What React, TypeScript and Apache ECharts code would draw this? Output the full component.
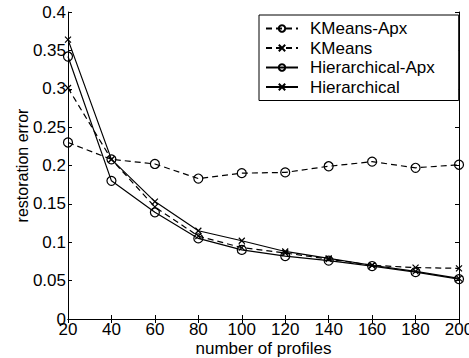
import React, { useEffect, useRef } from "react";
import * as echarts from "echarts";

const profiles = [20, 40, 60, 80, 100, 120, 140, 160, 180, 200];
const kmeansApx = [0.230, 0.208, 0.202, 0.183, 0.190, 0.191, 0.199, 0.205, 0.197, 0.201];
const kmeans = [0.301, 0.208, 0.146, 0.108, 0.093, 0.086, 0.078, 0.070, 0.067, 0.066];
const hierApx = [0.342, 0.180, 0.139, 0.105, 0.090, 0.082, 0.076, 0.069, 0.061, 0.052];
const hier = [0.364, 0.208, 0.153, 0.115, 0.102, 0.088, 0.079, 0.070, 0.062, 0.053];
const seriesNames = ["KMeans-Apx", "KMeans", "Hierarchical-Apx", "Hierarchical"];

const FONT = "Liberation Sans, Arial, Helvetica, sans-serif";
const X_SYMBOL = "path://M0,0L10,10M10,0L0,10";

export default function App() {
  const ref = useRef<HTMLDivElement>(null);
  useEffect(() => {
    if (!ref.current) return;
    const chart = echarts.init(ref.current, undefined, { renderer: "svg" });
    const mk = (name: string, vals: number[], dashed: boolean, sym: string, size: number) => ({
      name,
      type: "line",
      data: profiles.map((x, i) => [x, vals[i]]),
      symbol: sym,
      symbolSize: size,
      showSymbol: true,
      lineStyle: { color: "#000", width: 1.2, type: dashed ? [6, 4] : "solid" },
      itemStyle: { color: "none", borderColor: "#000", borderWidth: 1.2 },
      emphasis: { disabled: true },
    });
    const axisCommon = {
      axisLine: { show: true, lineStyle: { color: "#000", width: 1 } },
      axisTick: { show: true, inside: true, length: 4, lineStyle: { color: "#000" } },
      splitLine: { show: false },
    };
    chart.setOption({
      animation: false,
      backgroundColor: "#fff",
      grid: {
        left: 68,
        right: 10,
        top: 12,
        bottom: 39,
        containLabel: false,
        outerBoundsMode: "none",
      },
      legend: {
        data: seriesNames,
        orient: "vertical",
        left: 259,
        top: 15,
        itemWidth: 32,
        itemHeight: 8,
        itemGap: 2.5,
        padding: [5, 24, 5, 6],
        borderColor: "#000",
        borderWidth: 1,
        backgroundColor: "#fff",
        selectedMode: false,
        textStyle: { fontFamily: FONT, fontSize: 17, color: "#000", padding: [0, 0, 0, 7] },
      },
      xAxis: [
        {
          type: "value",
          min: 20,
          max: 200,
          interval: 20,
          name: "number of profiles",
          nameLocation: "middle",
          nameGap: 21,
          nameMoveOverlap: false,
          nameTextStyle: { fontFamily: FONT, fontSize: 17, color: "#000" },
          axisLabel: { fontFamily: FONT, fontSize: 17, color: "#000", margin: 2 },
          ...axisCommon,
        },
        {
          type: "value",
          position: "top",
          min: 20,
          max: 200,
          interval: 20,
          axisLabel: { show: false },
          ...axisCommon,
        },
      ],
      yAxis: [
        {
          type: "value",
          min: 0,
          max: 0.4,
          interval: 0.05,
          name: "restoration error",
          nameLocation: "middle",
          nameGap: 38,
          nameMoveOverlap: false,
          nameTextStyle: { fontFamily: FONT, fontSize: 16, color: "#000" },
          axisLabel: { fontFamily: FONT, fontSize: 17, color: "#000", margin: 2 },
          ...axisCommon,
        },
        {
          type: "value",
          position: "right",
          min: 0,
          max: 0.4,
          interval: 0.05,
          axisLabel: { show: false },
          ...axisCommon,
        },
      ],
      series: [
        mk(seriesNames[0], kmeansApx, true, "circle", 9),
        mk(seriesNames[1], kmeans, true, X_SYMBOL, 6),
        mk(seriesNames[2], hierApx, false, "circle", 9),
        mk(seriesNames[3], hier, false, X_SYMBOL, 6),
      ],
    });
    return () => chart.dispose();
  }, []);
  return (
    <div
      ref={ref}
      style={{ position: "absolute", left: 0, top: 0, width: 469, height: 358, background: "#fff" }}
    />
  );
}
